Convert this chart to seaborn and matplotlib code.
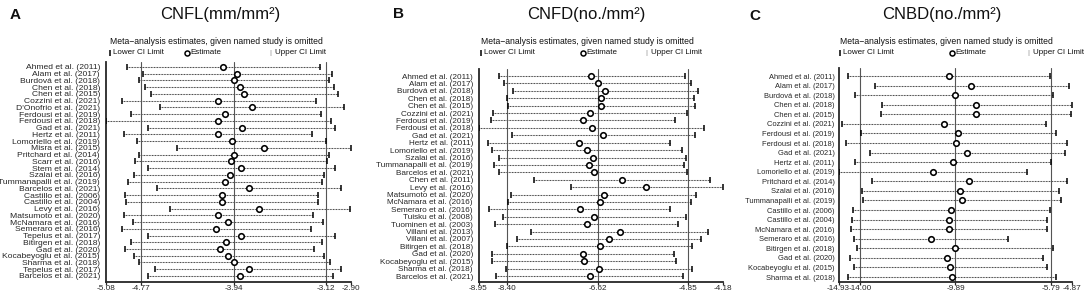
import matplotlib
matplotlib.use("Agg")
import matplotlib.pyplot as plt
from matplotlib.lines import Line2D
from matplotlib import font_manager
import numpy as np
import pandas as pd
import seaborn as sns

# ---- data ----
studies_a = ["Ahmed et al. (2011)", "Alam et al. (2017)", "Burdová et al. (2018)", "Chen et al. (2018)",
             "Chen et al. (2015)", "Cozzini et al. (2021)", "D'Onofrio et al. (2021)", "Ferdousi et al. (2019)",
             "Ferdousi et al. (2018)", "Gad et al. (2021)", "Hertz et al. (2011)", "Lomoriello et al. (2019)",
             "Misra et al. (2015)", "Pritchard et al. (2014)", "Scarr et al. (2016)", "Stem et al. (2014)",
             "Szalai et al. (2016)", "Tummanapalli et al. (2019)", "Barcelos et al. (2021)", "Castillo et al. (2006)",
             "Castillo et al. (2004)", "Levy et al. (2016)", "Matsumoto et al. (2020)", "McNamara et al. (2016)",
             "Semeraro et al. (2016)", "Tepelus et al. (2017)", "Bitirgen et al. (2018)", "Gad et al. (2020)",
             "Kocabeyoglu et al. (2015)", "Sharma et al. (2018)", "Tepelus et al. (2017)", "Barcelos et al. (2021)"]
lower_a = [-4.89, -4.75, -4.79, -4.73, -4.68, -4.94, -4.60, -4.86, -5.08, -4.71, -4.92, -4.80, -4.45, -4.79,
           -4.82, -4.71, -4.83, -4.88, -4.63, -4.91, -4.90, -4.51, -4.92, -4.84, -4.94, -4.71, -4.86, -4.91,
           -4.83, -4.79, -4.64, -4.71]
est_a = [-4.04, -3.91, -3.94, -3.89, -3.85, -4.08, -3.78, -4.02, -4.08, -3.87, -4.08, -3.96, -3.67, -3.94,
         -3.97, -3.88, -3.98, -4.02, -3.81, -4.05, -4.05, -3.72, -4.08, -3.99, -4.10, -3.88, -4.01, -4.07,
         -3.99, -3.94, -3.81, -3.89]
upper_a = [-3.18, -3.07, -3.10, -3.05, -3.02, -3.21, -2.96, -3.17, -3.08, -3.04, -3.25, -3.12, -2.90, -3.10,
           -3.11, -3.04, -3.14, -3.16, -2.99, -3.19, -3.19, -2.91, -3.24, -3.15, -3.26, -3.04, -3.16, -3.23,
           -3.14, -3.09, -2.99, -3.06]
pooled_a = [-4.77, -3.94, -3.12]
lims_a = [-5.08, -2.90]

studies_b = ["Ahmed et al. (2011)", "Alam et al. (2017)", "Burdová et al. (2018)", "Chen et al. (2018)",
             "Chen et al. (2015)", "Cozzini et al. (2021)", "Ferdousi et al. (2019)", "Ferdousi et al. (2018)",
             "Gad et al. (2021)", "Hertz et al. (2011)", "Lomoriello et al. (2019)", "Szalai et al. (2016)",
             "Tummanapalli et al. (2019)", "Barcelos et al. (2021)", "Chen et al. (2011)", "Levy et al. (2016)",
             "Matsumoto et al. (2020)", "McNamara et al. (2016)", "Semeraro et al. (2016)", "Tuisku et al. (2008)",
             "Tuominen et al. (2003)", "Villani et al. (2013)", "Villani et al. (2007)", "Bitirgen et al. (2018)",
             "Gad et al. (2020)", "Kocabeyoglu et al. (2015)", "Sharma et al. (2018)", "Barcelos et al. (2021)"]
lower_b = [-8.54, -8.45, -8.27, -8.39, -8.38, -8.66, -8.71, -8.95, -8.30, -8.76, -8.69, -8.54, -8.64, -8.54,
           -7.87, -7.15, -8.32, -8.37, -8.75, -8.48, -8.62, -7.93, -8.19, -8.40, -8.68, -8.68, -8.41, -8.60]
est_b = [-6.76, -6.62, -6.47, -6.55, -6.55, -6.77, -6.90, -6.74, -6.51, -6.99, -6.83, -6.72, -6.79, -6.69,
         -6.14, -5.68, -6.50, -6.58, -6.97, -6.69, -6.82, -6.19, -6.40, -6.58, -6.90, -6.88, -6.59, -6.77]
upper_b = [-4.92, -4.79, -4.66, -4.74, -4.72, -4.87, -5.11, -4.55, -4.71, -5.21, -4.97, -4.90, -4.94, -4.87,
           -4.43, -4.18, -4.69, -4.80, -5.20, -4.90, -5.05, -4.46, -4.61, -4.77, -5.13, -5.08, -4.77, -4.95]
pooled_b = [-8.40, -6.62, -4.85]
lims_b = [-8.95, -4.18]

studies_c = ["Ahmed et al. (2011)", "Alam et al. (2017)", "Burdová et al. (2018)", "Chen et al. (2018)",
             "Chen et al. (2015)", "Cozzini et al. (2021)", "Ferdousi et al. (2019)", "Ferdousi et al. (2018)",
             "Gad et al. (2021)", "Hertz et al. (2011)", "Lomoriello et al. (2019)", "Pritchard et al. (2014)",
             "Szalai et al. (2016)", "Tummanapalli et al. (2019)", "Castillo et al. (2006)", "Castillo et al. (2004)",
             "McNamara et al. (2016)", "Semeraro et al. (2016)", "Bitirgen et al. (2018)", "Gad et al. (2020)",
             "Kocabeyoglu et al. (2015)", "Sharma et al. (2018)"]
lower_c = [-14.50, -13.35, -14.22, -13.07, -13.11, -14.76, -13.97, -14.60, -13.58, -14.22, -14.93, -13.47,
           -13.93, -13.89, -14.29, -14.36, -14.40, -14.26, -14.14, -14.43, -14.26, -14.50]
est_c = [-10.16, -9.23, -9.93, -8.99, -9.01, -10.37, -9.76, -9.86, -9.40, -9.99, -10.87, -9.30,
         -9.70, -9.62, -10.08, -10.16, -10.19, -10.95, -9.91, -10.26, -10.11, -10.05]
upper_c = [-5.81, -5.02, -5.71, -4.87, -4.93, -6.00, -5.55, -5.09, -5.19, -5.77, -6.82, -5.09,
           -5.45, -5.35, -5.81, -5.95, -5.95, -7.64, -5.67, -6.10, -5.95, -5.57]
pooled_c = [-14.00, -9.89, -5.79]
lims_c = [-14.93, -4.87]

titles = ["CNFL(mm/mm²)", "CNFD(no./mm²)", "CNBD(no./mm²)"]
letters = ["A", "B", "C"]

# ---- style ----
sns.set_style("ticks")
plt.rcParams["font.family"] = ["Liberation Sans", "DejaVu Sans"]
plt.rcParams["text.color"] = "#111111"

W, H = 1084, 298
fig = plt.figure(figsize=(W / 100, H / 100), dpi=100)

installed = {f.name for f in font_manager.fontManager.ttflist}
if "Liberation Sans Narrow" in installed:
    a_font = dict(family=["Liberation Sans Narrow", "Liberation Sans"], size=7.4)
else:
    a_font = dict(family=["Liberation Sans", "DejaVu Sans"], size=6.1)


def fx(px):
    return px / W


def fy(py):
    return 1 - py / H


def panel(box, studies, lower, est, upper, pooled, lims, ylim, lab_font, lab_pad):
    left, right, top, bottom = box
    ax = fig.add_axes([fx(left), fy(bottom), fx(right - left), (bottom - top) / H])
    df = pd.DataFrame({"study": studies, "lower": lower, "est": est, "upper": upper})
    df["row"] = np.arange(len(df))

    ax.hlines(df["row"], df["lower"], df["upper"], colors="#2e2e2e", linewidth=0.75,
              linestyles=(0, (0.8, 0.7)), zorder=1)
    for v in pooled:
        ax.axvline(v, color="#555555", linewidth=0.8, zorder=2)
    sns.scatterplot(data=df, x="lower", y="row", marker="|", s=18, color="black",
                    linewidth=1.1, ax=ax, zorder=3)
    sns.scatterplot(data=df, x="upper", y="row", marker="|", s=18, color="black",
                    linewidth=1.1, ax=ax, zorder=3)
    sns.scatterplot(data=df, x="est", y="row", marker="o", s=16, facecolor="white",
                    edgecolor="black", linewidth=1.15, ax=ax, zorder=4)

    ax.set_xlim(lims)
    ax.set_ylim(ylim)
    ax.set_yticks(df["row"])
    ax.set_yticklabels(df["study"], fontdict=lab_font)
    ax.tick_params(axis="y", length=0, pad=lab_pad)
    ticks = [lims[0]] + pooled + [lims[1]]
    ax.set_xticks(ticks)
    ax.set_xticklabels([f"{t:.2f}" for t in ticks], fontsize=5.9)
    ax.tick_params(axis="x", length=2, width=0.9, pad=0.6)
    ax.set_xlabel("")
    ax.set_ylabel("")
    sns.despine(ax=ax)
    for s in ["left", "bottom"]:
        ax.spines[s].set_linewidth(1.3)
    return ax


# box = (left px, right px, top px, bottom px)
panel((106, 351, 62, 281.5), studies_a, lower_a, est_a, upper_a, pooled_a, lims_a,
      (31.82, -0.74), a_font, 4.3)
panel((478.5, 722.5, 69, 281.5), studies_b, lower_b, est_b, upper_b, pooled_b, lims_b,
      (27.74, -0.95), dict(size=5.9), 4.0)
panel((838.5, 1072, 68, 281.5), studies_c, lower_c, est_c, upper_c, pooled_c, lims_c,
      (21.47, -0.84), dict(size=5.4), 2.9)

# panel letters and titles
letter_pos = [(10, 15), (393, 14), (749, 16)]
title_pos = [(220, 14), (586, 14), (942, 14)]
for (lx, ly), (tx, ty), let, ttl in zip(letter_pos, title_pos, letters, titles):
    fig.text(fx(lx), fy(ly), let, fontsize=11, fontweight="bold", ha="left", va="center")
    fig.text(fx(tx), fy(ty), ttl, fontsize=12, ha="center", va="center")

# legends ("Meta-analysis estimates...")
legend_pos = [(110, 187, 271), (481, 583, 647), (840, 952, 1029)]
for lo, es, up in legend_pos:
    fig.text(fx(lo), fy(42), "Meta\u2212analysis estimates, given named study is omitted",
             fontsize=6.2, ha="left", va="center")
    fig.add_artist(Line2D([fx(lo)], [fy(53)], marker="|", markersize=4, mew=1.1, color="black"))
    fig.text(fx(lo + 3), fy(53), "Lower CI Limit", fontsize=5.8, ha="left", va="center")
    fig.add_artist(Line2D([fx(es)], [fy(53)], marker="o", markersize=3.6, mew=1.1,
                          mfc="white", mec="black", ls="none"))
    fig.text(fx(es + 3), fy(53), "Estimate", fontsize=5.8, ha="left", va="center")
    fig.add_artist(Line2D([fx(up)], [fy(53)], marker="|", markersize=4, mew=1.1, color="#cfcfcf"))
    fig.text(fx(up + 4), fy(53), "Upper CI Limit", fontsize=5.8, ha="left", va="center")

fig.savefig("out.png", dpi=100)
